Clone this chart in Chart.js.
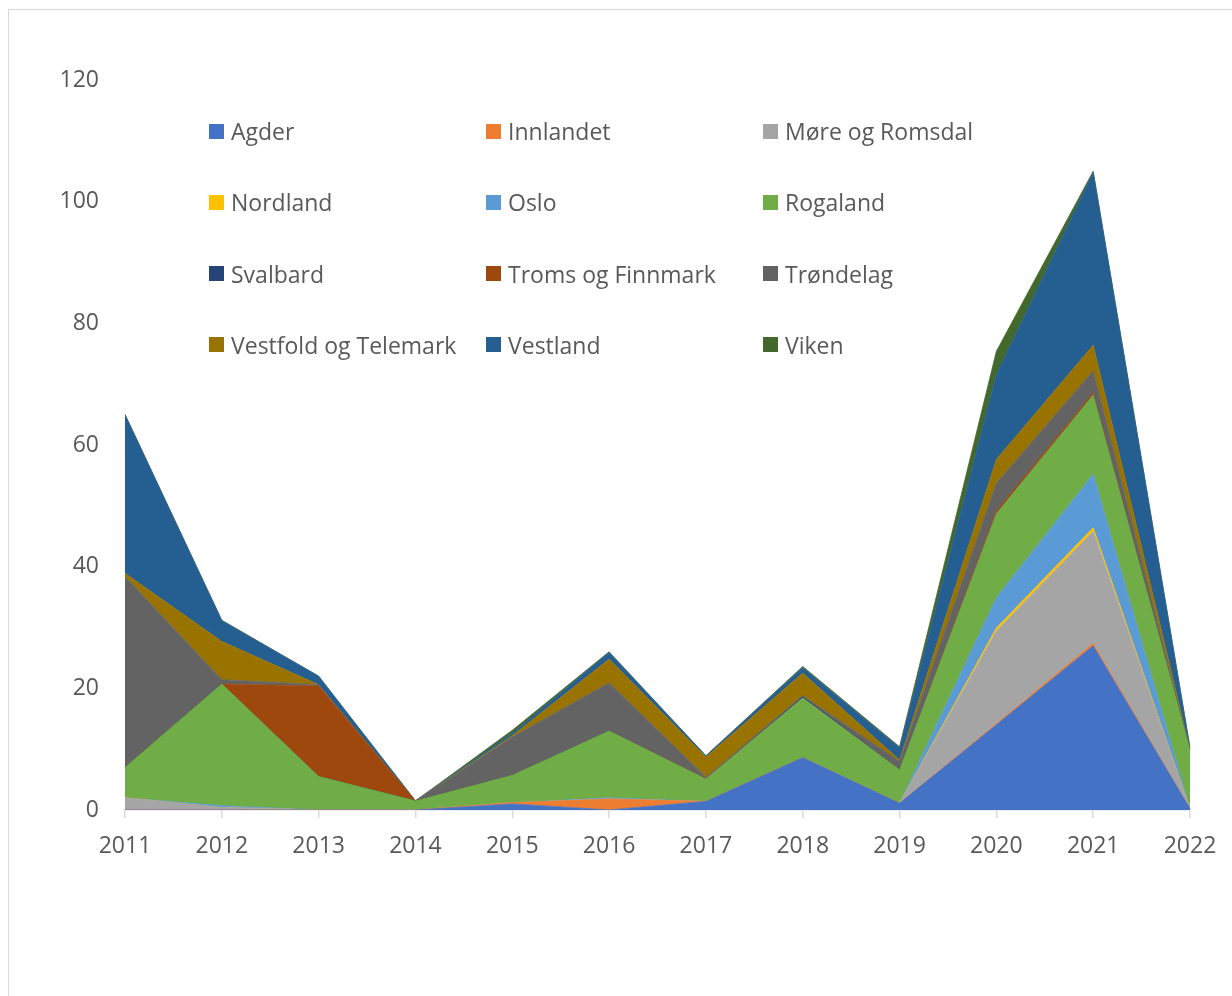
<!DOCTYPE html>
<html>
<head>
<meta charset="utf-8">
<script src="https://cdn.jsdelivr.net/npm/chart.js@4.4.0/dist/chart.umd.min.js"></script>
<style>
  html, body { margin: 0; padding: 0; background: #fff; width: 1232px; height: 996px; overflow: hidden; }
  #frame { position: absolute; left: 8px; top: 9px; width: 1300px; height: 1100px; border: 1px solid #d9d9d9; box-sizing: border-box; }
  #wrap { position: absolute; left: 0; top: 0; width: 1232px; height: 996px; }
  #legend { position: absolute; left: 0; top: 0; width: 1232px; height: 400px; pointer-events: none;
            font-family: "Open Sans", sans-serif; font-size: 23px; color: #595959; }
  .item { position: absolute; display: flex; align-items: center; height: 30px; white-space: nowrap; }
  .sw { width: 15px; height: 15px; margin-right: 7px; flex: none; }
</style>
</head>
<body>
<div id="frame"></div>
<div id="wrap"><canvas id="c"></canvas></div>
<div id="legend"></div>
<script>
const years = ["2011","2012","2013","2014","2015","2016","2017","2018","2019","2020","2021","2022"];
const yTicks = [0, 20, 40, 60, 80, 100, 120];

const regions = ["Agder","Innlandet","Møre og Romsdal","Nordland","Oslo","Rogaland","Svalbard","Troms og Finnmark","Trøndelag","Vestfold og Telemark","Vestland","Viken"];

const agder      = [0,    0,   0,    0,   1,   0,   1.4, 8.6, 1.1, 14,   27,   0.2];
const innlandet  = [0,    0,   0,    0,   0.2, 1.8, 0,   0,   0,   0.2,  0.4,  0];
const more       = [2,    0.4, 0,    0,   0,   0,   0,   0,   0,   15.2, 18.4, 0];
const nordland   = [0,    0,   0,    0,   0,   0,   0,   0,   0,   0.5,  0.6,  0];
const oslo       = [0,    0.3, 0,    0,   0,   0.2, 0,   0,   0,   5,    8.8,  0];
const rogaland   = [5,    20,  5.5,  1.5, 4.5, 11,  3.7, 9.8, 5.5, 13.8, 13,   9.7];
const svalbard   = [0,    0,   0,    0,   0,   0,   0,   0.2, 0,   0,    0,    0];
const troms      = [0,    0,   14.9, 0,   0,   0,   0.1, 0,   0,   0.5,  0.4,  0];
const trondelag  = [31.4, 0.7, 0.2,  0,   6.3, 7.9, 0.2, 0.2, 1.4, 4.5,  3.6,  0];
const vestfold   = [0.5,  6.3, 0,    0,   0.2, 3.9, 3.3, 3.7, 0.2, 3.9,  4.2,  0];
const vestland   = [26.1, 3.4, 1.4,  0,   0.4, 1.1, 0.2, 0.9, 2.0, 14,   28.4, 0.3];
const viken      = [0,    0.1, 0,    0,   0.5, 0.1, 0,   0.2, 0.2, 3.8,  0.2,  0];

const seriesValues = [agder, innlandet, more, nordland, oslo, rogaland, svalbard, troms, trondelag, vestfold, vestland, viken];
const colors = ["#4472C4","#ED7D31","#A5A5A5","#FFC000","#5B9BD5","#70AD47","#264478","#9E480E","#636363","#997300","#255E91","#43682B"];

const datasets = regions.map((name, i) => ({
  label: name,
  data: seriesValues[i],
  backgroundColor: colors[i],
  borderColor: colors[i],
  borderWidth: 0.75,
  pointRadius: 0,
  pointHoverRadius: 0,
  tension: 0,
  fill: i === 0 ? 'origin' : '-1'
}));

const FONT = { family: "'Open Sans', sans-serif", size: 23 };

new Chart(document.getElementById('c'), {
  type: 'line',
  data: { labels: years, datasets },
  options: {
    responsive: true,
    maintainAspectRatio: false,
    animation: false,
    layout: { padding: { top: 80, right: 42, bottom: 0, left: 0 } },
    plugins: { legend: { display: false }, tooltip: { enabled: false } },
    scales: {
      x: {
        offset: false,
        grid: { display: true, drawOnChartArea: false, drawTicks: true, tickLength: 8, color: '#d9d9d9', lineWidth: 1.5 },
        border: { display: true, color: '#d9d9d9', width: 1.5 },
        ticks: { color: '#595959', font: FONT, padding: 15, maxRotation: 0, autoSkip: false },
        afterFit: s => { s.height = 186; }
      },
      y: {
        stacked: true,
        min: 0, max: 120,
        afterBuildTicks: s => { s.ticks = yTicks.map(v => ({ value: v })); },
        grid: { display: false },
        border: { display: false },
        ticks: { color: '#595959', font: FONT, padding: 18 },
        afterFit: s => { s.width = 125; }
      }
    }
  }
});

// HTML legend, three columns
const lg = document.getElementById('legend');
regions.forEach((name, i) => {
  const col = i % 3, row = Math.floor(i / 3);
  const d = document.createElement('div');
  d.className = 'item';
  d.style.left = (209 + col * 277) + 'px';
  d.style.top = (131 - 15 + row * 71.3) + 'px';
  const sw = document.createElement('span');
  sw.className = 'sw';
  sw.style.background = colors[i];
  const t = document.createElement('span');
  t.textContent = name;
  d.appendChild(sw); d.appendChild(t);
  lg.appendChild(d);
});
</script>
</body>
</html>
